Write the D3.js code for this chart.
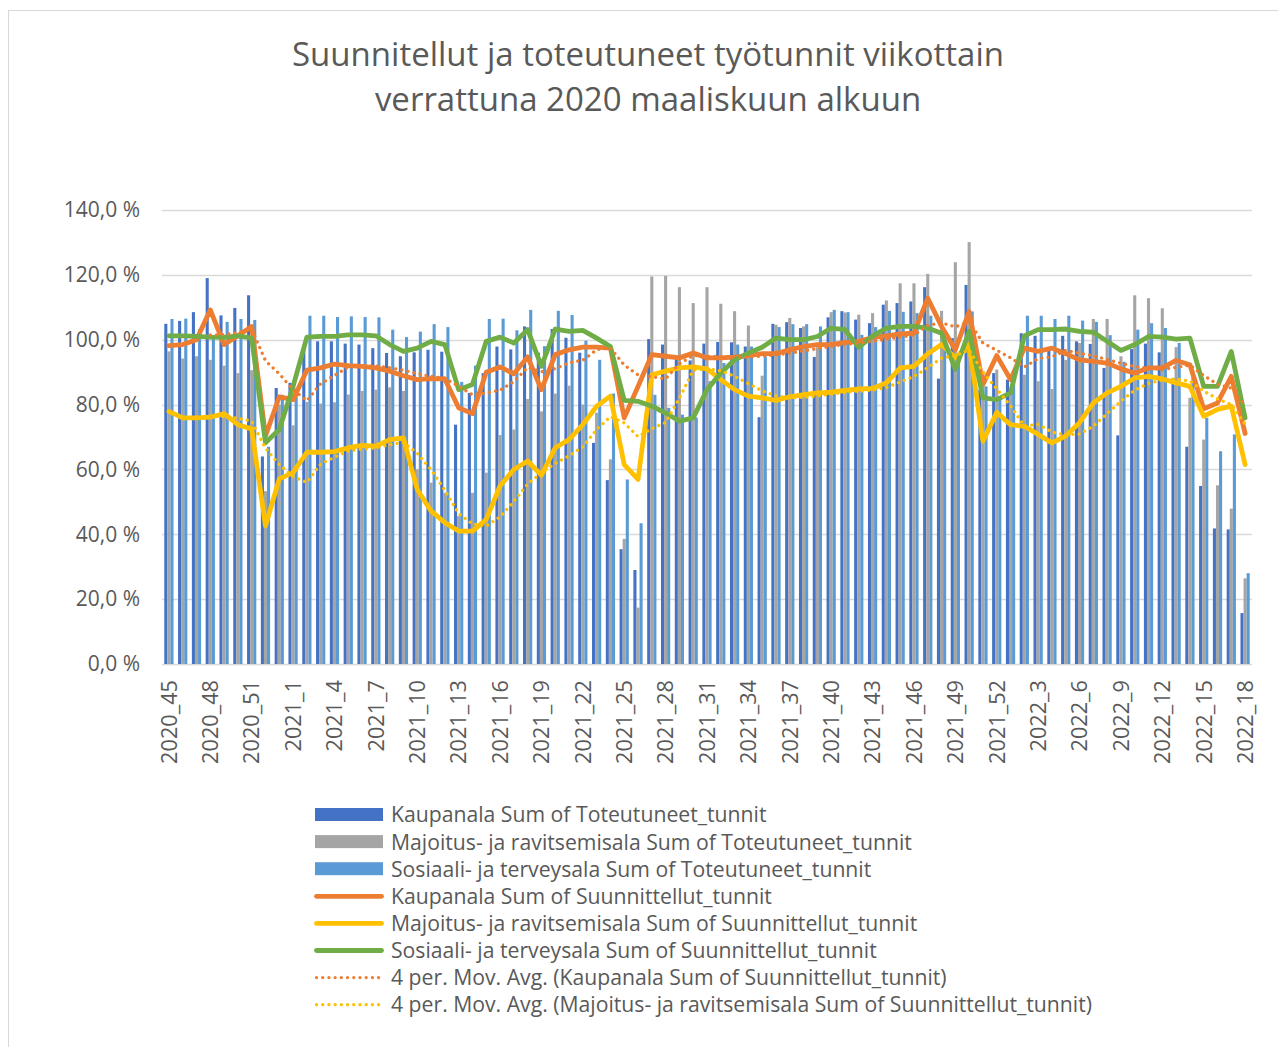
<!DOCTYPE html>
<html>
<head>
<meta charset="utf-8">
<script src="https://cdn.jsdelivr.net/npm/d3@7"></script>
<style>
  body { margin: 0; background: #fff; }
  text { font-family: 'Open Sans', sans-serif; fill: #595959; }
</style>
</head>
<body>
<svg id="chart" width="1278" height="1047"></svg>
<script>
// weeks 2020_45 .. 2022_18
const weeks = [
  '2020_45', '2020_46', '2020_47', '2020_48', '2020_49', '2020_50', '2020_51', '2020_52', '2020_53',
  '2021_1', '2021_2', '2021_3', '2021_4', '2021_5', '2021_6', '2021_7', '2021_8', '2021_9', '2021_10',
  '2021_11', '2021_12', '2021_13', '2021_14', '2021_15', '2021_16', '2021_17', '2021_18', '2021_19',
  '2021_20', '2021_21', '2021_22', '2021_23', '2021_24', '2021_25', '2021_26', '2021_27', '2021_28',
  '2021_29', '2021_30', '2021_31', '2021_32', '2021_33', '2021_34', '2021_35', '2021_36', '2021_37',
  '2021_38', '2021_39', '2021_40', '2021_41', '2021_42', '2021_43', '2021_44', '2021_45', '2021_46',
  '2021_47', '2021_48', '2021_49', '2021_50', '2021_51', '2021_52',
  '2022_1', '2022_2', '2022_3', '2022_4', '2022_5', '2022_6', '2022_7', '2022_8', '2022_9', '2022_10',
  '2022_11', '2022_12', '2022_13', '2022_14', '2022_15', '2022_16', '2022_17', '2022_18'
];

// bars (toteutuneet), % of early March 2020
const kaupToteutuneet = [
  104.9, 105.8, 108.5, 119.0, 107.5, 109.8, 113.7, 64, 85.1,
  86.7, 98, 99.5, 99.5, 98.8, 98.5, 97.4, 95.9, 94.9, 96.1,
  96.9, 96.3, 73.8, 83.6, 89.7, 97.9, 97, 104.1, 96,
  103.3, 100.6, 96, 68.2, 56.7, 35.4, 29, 100.2, 98.5,
  94, 93.6, 98.8, 99.3, 99.2, 97.9, 76.1, 104.9, 105.4,
  103.6, 94.7, 106.9, 108.8, 106.2, 105.1, 110.8, 111.3, 111.8,
  116.2, 88, 100.5, 116.9, 84.6, 89.7,
  87.7, 102, 101.2, 96.7, 101.2, 99.5, 98.7, 91.3, 70.5, 97.1,
  98.8, 96.1, 88.2, 67, 54.9, 41.8, 41.5, 15.7
];
const majToteutuneet = [
  96.4, 94.2, 94.9, 93.8, 92.0, 89.7, 90.6, 53.3, 80,
  73.6, 80.8, 80.3, 80.7, 83.1, 84.2, 84.6, 85.3, 84.2, 60,
  55.9, 52.8, 45.6, 52.8, 59, 70.6, 72.3, 81.7, 77.9,
  83.4, 85.8, 80, 77.5, 63.1, 38.6, 17.4, 119.5, 119.7,
  116.2, 111.3, 116.2, 111.1, 108.8, 104.4, 88.9, 104.6, 106.7,
  104.1, 97.7, 108.5, 108.4, 107.7, 108.2, 112.1, 117.4, 117.4,
  120.3, 108.9, 123.9, 130.1, 90.3, 90.8,
  85, 89.2, 87.2, 84.8, 93.8, 99, 106.4, 106.4, 94.9, 113.7,
  112.8, 109.7, 97.7, 82.1, 69.2, 55.1, 47.9, 26.4
];
const sosToteutuneet = [
  106.4, 106.5, 103.3, 101, 105.5, 106.4, 106.1, 67, 83,
  85, 107.4, 107.4, 107, 107.2, 107, 106.9, 103.1, 100.8, 102.5,
  104.8, 103.9, 87, 92, 106.4, 106.5, 102.9, 109.2, 98,
  108.9, 107.6, 99.7, 93.8, 83.4, 56.9, 43.4, 83, 79,
  76.9, 76, 87.2, 92.8, 98.5, 97.9, 94.9, 103.9, 104.8,
  104.8, 104.1, 109.2, 108.5, 101.5, 103.9, 108.9, 108.6, 108.2,
  107.4, 103, 95, 108.7, 85.6, 82.6,
  88, 107.4, 107.4, 106.4, 107.4, 105.9, 105.5, 101.4, 93.2, 103.1,
  105.1, 103.6, 99, 88.7, 75.9, 65.6, 70.8, 28
];

// lines (suunnitellut)
const kaupSuunnitellut = [
  98.2, 98.5, 100, 109.2, 98.5, 101.2, 104.1, 70.3, 82.4,
  81.5, 90.6, 91.3, 92.5, 92, 91.8, 91.3, 90.3, 88.9, 87.7,
  88, 87.9, 79, 77.2, 90, 91.6, 89.5, 94.7, 84.6,
  95.4, 96.9, 97.7, 97.7, 97.4, 75.9, 85.6, 95.4, 94.9,
  94.4, 95.9, 94.4, 94.4, 94.6, 95.1, 95.7, 95.7, 96.9,
  97.9, 98.5, 98.5, 99.2, 99.5, 100.7, 101.2, 101.8, 102,
  112.8, 104.1, 96.9, 108.7, 86.2, 95.1,
  87.7, 97.4, 96.4, 97.4, 95.7, 93.8, 93.3, 92.8, 91, 89.7,
  91.3, 91.3, 93.6, 92.3, 78.7, 80.5, 88.7, 71.1
];
const majSuunnitellut = [
  77.9, 75.9, 75.9, 76.1, 77.2, 73.8, 72.5, 42.6, 57.1,
  59, 65.3, 65.3, 65.5, 66.7, 67.4, 67.2, 69.2, 69.7, 53.8,
  47.2, 43.6, 41, 41, 44.6, 54.9, 60, 62.6, 58.2,
  66.7, 69.2, 73.8, 79.5, 82.6, 61.5, 56.9, 89.2, 90.3,
  91.3, 91.6, 91, 87.7, 84.6, 82.6, 82.1, 81.3, 82.4,
  83.1, 83.6, 83.8, 84.4, 84.8, 85, 86.7, 91.3, 91.8,
  95.7, 98.5, 94.4, 98.5, 68.7, 77.6,
  73.8, 73.3, 70.8, 68.2, 70.3, 74.4, 80.5, 83.6, 85.6, 88.2,
  88.7, 87.9, 86.7, 85.6, 76.4, 78.5, 79.5, 61.5
];
const sosSuunnitellut = [
  101.2, 101.2, 101, 100.8, 100.7, 101.2, 100.5, 68.2, 72.3,
  85.6, 100.8, 101, 101, 101.5, 101.5, 101.2, 98.5, 96.4, 97.4,
  99.5, 98.5, 84.6, 86.2, 99.5, 100.8, 99, 103.1, 91.8,
  103.3, 102.6, 102.9, 100.5, 97.9, 81.3, 81, 79.5, 77.4,
  74.9, 75.9, 84.6, 89.7, 93.8, 95.9, 97.7, 100.5, 100,
  100, 101, 103.6, 103.1, 97.7, 101.1, 103.6, 104.1, 104.1,
  103.6, 102, 90.8, 102.6, 82.1, 81.5,
  83.6, 101.2, 103.1, 103.1, 103.3, 102.6, 102.3, 99.5, 96.7, 98.5,
  101, 100.8, 100.2, 100.5, 85.6, 85.6, 96.4, 75.9
];

const yTicks = [0, 20, 40, 60, 80, 100, 120, 140];

const barSeries = [
  { name: 'Kaupanala Sum of Toteutuneet_tunnit', values: kaupToteutuneet, color: '#4472C4' },
  { name: 'Majoitus- ja ravitsemisala Sum of Toteutuneet_tunnit', values: majToteutuneet, color: '#A5A5A5' },
  { name: 'Sosiaali- ja terveysala Sum of Toteutuneet_tunnit', values: sosToteutuneet, color: '#5B9BD5' }
];
const lineSeries = [
  { name: 'Kaupanala Sum of Suunnittellut_tunnit', values: kaupSuunnitellut, color: '#ED7D31' },
  { name: 'Majoitus- ja ravitsemisala Sum of Suunnittellut_tunnit', values: majSuunnitellut, color: '#FFC000' },
  { name: 'Sosiaali- ja terveysala Sum of Suunnittellut_tunnit', values: sosSuunnitellut, color: '#70AD47' }
];
// excel trendline: 4 period moving average
const movAvg = (vals, n) =>
  vals.map((v, i) => (i < n - 1 ? null : d3.mean(vals.slice(i - n + 1, i + 1))));
const trendSeries = [
  { name: '4 per. Mov. Avg. (Kaupanala Sum of Suunnittellut_tunnit)', values: movAvg(kaupSuunnitellut, 4), color: '#ED7D31' },
  { name: '4 per. Mov. Avg. (Majoitus- ja ravitsemisala Sum of Suunnittellut_tunnit)', values: movAvg(majSuunnitellut, 4), color: '#FFC000' }
];

const svg = d3.select('#chart');
const plot = { left: 162, right: 1252, top: 210, bottom: 664 };

svg.append('rect')
  .attr('x', 8.5).attr('y', 10.5)
  .attr('width', 1290).attr('height', 1060)
  .attr('fill', 'white')
  .attr('stroke', '#d9d9d9');

// title
svg.append('text')
  .attr('text-anchor', 'middle')
  .attr('font-size', 33)
  .selectAll('tspan')
  .data(['Suunnitellut ja toteutuneet työtunnit viikottain', 'verrattuna 2020 maaliskuun alkuun'])
  .join('tspan')
  .attr('x', 648)
  .attr('y', (d, i) => 66 + i * 45)
  .text((d) => d);

const x0 = d3.scaleBand().domain(weeks).range([plot.left, plot.right]).paddingInner(0.33).paddingOuter(0.165);
const x1 = d3.scaleBand().domain([0, 1, 2]).range([0, x0.bandwidth()]);
const y = d3.scaleLinear().domain([0, 140]).range([plot.bottom, plot.top]);
const cx = (i) => x0(weeks[i]) + x0.bandwidth() / 2;

// gridlines + y labels
svg.append('g')
  .selectAll('line')
  .data(yTicks)
  .join('line')
  .attr('x1', plot.left).attr('x2', plot.right)
  .attr('y1', (d) => Math.round(y(d)) + 0.5).attr('y2', (d) => Math.round(y(d)) + 0.5)
  .attr('stroke', '#d9d9d9')
  .attr('stroke-width', 1.3);

svg.append('g')
  .selectAll('text')
  .data(yTicks)
  .join('text')
  .attr('x', 140)
  .attr('y', (d) => y(d))
  .attr('dy', '0.35em')
  .attr('text-anchor', 'end')
  .attr('font-size', 21)
  .text((d) => `${d3.format('.1f')(d).replace('.', ',')} %`);

// x labels, every third week
svg.append('g')
  .selectAll('text')
  .data(weeks.filter((d, i) => i % 3 === 0))
  .join('text')
  .attr('transform', (d) => `translate(${x0(d) + x0.bandwidth() / 2},680) rotate(-90)`)
  .attr('dy', '0.36em')
  .attr('text-anchor', 'end')
  .attr('font-size', 21.7)
  .text((d) => d);

// bars
svg.append('g')
  .selectAll('g')
  .data(barSeries)
  .join('g')
  .attr('fill', (d) => d.color)
  .each(function (s, si) {
    d3.select(this)
      .selectAll('rect')
      .data(s.values)
      .join('rect')
      .attr('x', (d, i) => x0(weeks[i]) + x1(si))
      .attr('width', x1.bandwidth())
      .attr('y', (d) => y(d))
      .attr('height', (d) => y(0) - y(d));
  });

const line = d3.line()
  .defined((d) => d !== null)
  .x((d, i) => cx(i))
  .y((d) => y(d));

svg.append('g')
  .selectAll('path')
  .data(lineSeries)
  .join('path')
  .attr('d', (d) => line(d.values))
  .attr('fill', 'none')
  .attr('stroke', (d) => d.color)
  .attr('stroke-width', 4.8)
  .attr('stroke-linejoin', 'round')
  .attr('stroke-linecap', 'round');

svg.append('g')
  .selectAll('path')
  .data(trendSeries)
  .join('path')
  .attr('d', (d) => line(d.values))
  .attr('fill', 'none')
  .attr('stroke', (d) => d.color)
  .attr('stroke-width', 3.3)
  .attr('stroke-dasharray', '0.01,6.2')
  .attr('stroke-linecap', 'round');

// legend
const legendItems = [
  ...barSeries.map((d) => ({ ...d, kind: 'bar' })),
  ...lineSeries.map((d) => ({ ...d, kind: 'line' })),
  ...trendSeries.map((d) => ({ ...d, kind: 'dot' }))
];
const legend = svg.append('g')
  .selectAll('g')
  .data(legendItems)
  .join('g')
  .attr('transform', (d, i) => `translate(315,${815 + i * 27.1})`);

legend.filter((d) => d.kind === 'bar')
  .append('rect')
  .attr('x', 0).attr('y', -7)
  .attr('width', 68).attr('height', 13)
  .attr('fill', (d) => d.color);

legend.filter((d) => d.kind !== 'bar')
  .append('line')
  .attr('x1', 1.5).attr('x2', 66.5)
  .attr('stroke', (d) => d.color)
  .attr('stroke-width', (d) => (d.kind === 'line' ? 4.8 : 3.3))
  .attr('stroke-linecap', 'round')
  .attr('stroke-dasharray', (d) => (d.kind === 'dot' ? '0.01,6.2' : null));

legend.append('text')
  .attr('x', 76)
  .attr('dy', '0.35em')
  .attr('font-size', 21.2)
  .text((d) => d.name);
</script>
</body>
</html>
